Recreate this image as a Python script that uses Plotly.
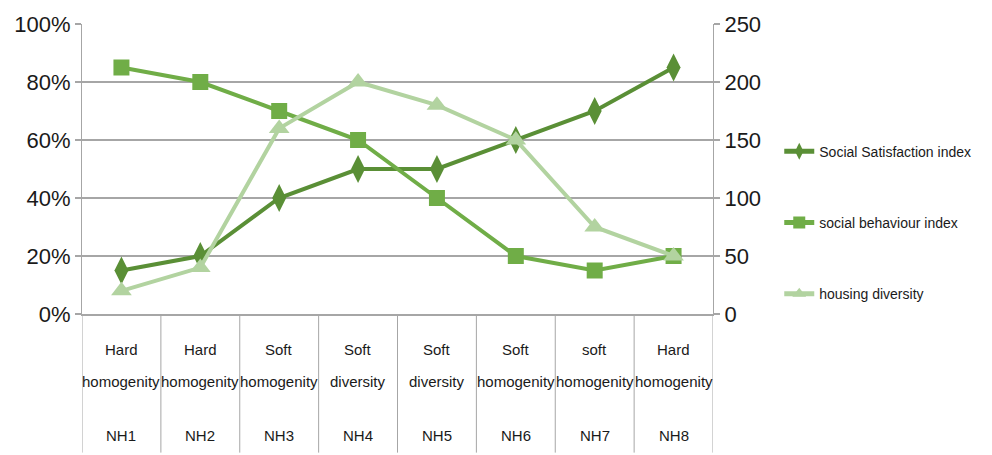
import plotly.graph_objects as go

# Neighbourhood categories
neighbourhoods = ["NH1", "NH2", "NH3", "NH4", "NH5", "NH6", "NH7", "NH8"]
type_first = ["Hard", "Hard", "Soft", "Soft", "Soft", "Soft", "soft", "Hard"]
type_second = ["homogenity", "homogenity", "homogenity", "diversity",
               "diversity", "homogenity", "homogenity", "homogenity"]

# Series values
satisfaction = [0.15, 0.20, 0.40, 0.50, 0.50, 0.60, 0.70, 0.85]   # left axis (%)
behaviour = [0.85, 0.80, 0.70, 0.60, 0.40, 0.20, 0.15, 0.20]      # left axis (%)
housing = [20, 40, 160, 200, 180, 150, 75, 50]                    # right axis

FONT = "Liberation Sans, Arial, sans-serif"
GRID = "#a6a6a6"
TXT = "#1a1a1a"
x_idx = list(range(len(neighbourhoods)))

fig = go.Figure()
fig.add_trace(go.Scatter(
    x=x_idx, y=satisfaction, name="Social Satisfaction index", legendgroup="a",
    mode="lines+markers", line=dict(color="#5a8f36", width=4),
    marker=dict(symbol="diamond-tall", size=20, color="#5a8f36")))
fig.add_trace(go.Scatter(
    x=x_idx, y=behaviour, name="social behaviour index", legendgroup="b",
    mode="lines+markers", line=dict(color="#70ad47", width=4),
    marker=dict(symbol="square", size=16, color="#70ad47")))
fig.add_trace(go.Scatter(
    x=x_idx, y=housing, name="housing diversity", legendgroup="c", yaxis="y2",
    mode="lines+markers", line=dict(color="#b2d3a0", width=4),
    marker=dict(symbol="triangle-up", size=18, color="#b2d3a0")))

# Category table below the axis: dividers and rows of labels
shapes = []
for i in range(len(neighbourhoods) + 1):
    shapes.append(dict(type="line", xref="x", yref="paper", x0=i - 0.5, x1=i - 0.5,
                       y0=0, y1=-0.478, line=dict(color=GRID, width=1)))
annotations = []
rows = [(type_first, -0.124), (type_second, -0.234), (neighbourhoods, -0.420)]
for labels, ypos in rows:
    for i, txt in enumerate(labels):
        annotations.append(dict(x=i, y=ypos, xref="x", yref="paper", text=txt,
                                showarrow=False, yanchor="middle",
                                font=dict(family=FONT, size=15, color=TXT)))

fig.update_layout(
    width=992, height=455,
    margin=dict(l=82, r=279, t=24, b=141, autoexpand=False),
    paper_bgcolor="white", plot_bgcolor="white",
    font=dict(family=FONT, color=TXT),
    showlegend=True,
    legend=dict(x=1.105, y=0.615, xanchor="left", yanchor="top",
                font=dict(family=FONT, size=14, color=TXT), itemsizing="constant",
                tracegroupgap=50, bgcolor="rgba(0,0,0,0)"),
    xaxis=dict(range=[-0.5, 7.5], showticklabels=False, showgrid=False, zeroline=False,
               showline=True, linecolor=GRID, linewidth=2, ticks="", automargin=False),
    yaxis=dict(range=[0, 1], tickvals=[0, 0.2, 0.4, 0.6, 0.8, 1.0], tickformat=".0%",
               showgrid=True, gridcolor=GRID, gridwidth=2, zeroline=False,
               showline=True, linecolor=GRID, linewidth=1, automargin=False,
               ticks="outside", ticklen=6, tickcolor=GRID, tickwidth=2,
               tickfont=dict(family=FONT, size=22, color=TXT)),
    yaxis2=dict(range=[0, 250], tickvals=[0, 50, 100, 150, 200, 250], overlaying="y",
                side="right", showgrid=False, zeroline=False, automargin=False,
                showline=True, linecolor=GRID, linewidth=1,
                ticks="outside", ticklen=6, tickcolor=GRID, tickwidth=2,
                tickfont=dict(family=FONT, size=22, color=TXT)),
    shapes=shapes, annotations=annotations,
)

fig.write_html("out.html")
